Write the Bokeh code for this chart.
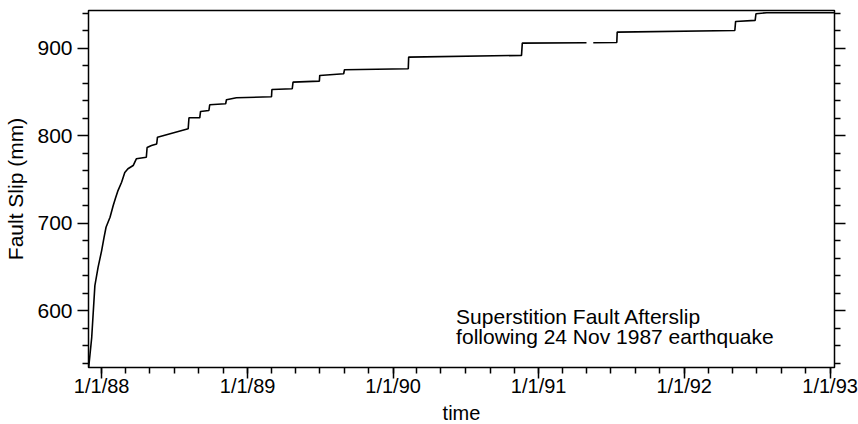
import numpy as np
import pandas as pd
from bokeh.plotting import figure
from bokeh.models import FixedTicker, LinearAxis, Label, Range1d, CustomLabelingPolicy
from bokeh.embed import file_html
from bokeh.resources import INLINE

# ---- data ----
dates = ["1987-11-29", "1987-12-07", "1987-12-15", "1987-12-23", "1988-01-01",
         "1988-01-07", "1988-01-12", "1988-01-22", "1988-01-30", "1988-02-05",
         "1988-02-11", "1988-02-20", "1988-02-28", "1988-03-07", "1988-03-20",
         "1988-03-28", "1988-04-22", "1988-04-24", "1988-05-05", "1988-05-18",
         "1988-05-20", "1988-08-05", "1988-08-07", "1988-09-03", "1988-09-05",
         "1988-09-26", "1988-09-28", "1988-11-07", "1988-11-09", "1988-12-04",
         "1989-03-02", "1989-03-03", "1989-04-23", "1989-04-25", "1989-06-30",
         "1989-07-01", "1989-08-30", "1989-09-01", "1990-02-08", "1990-02-09",
         "1990-11-19", "1990-11-21", "1991-05-01", "1991-05-09", "1991-05-18",
         "1991-07-16", "1991-07-17", "1992-05-07", "1992-05-09", "1992-06-27",
         "1992-06-29", "1992-07-26", "1993-01-13"]
slip = [533, 569, 628.6, 649.5, 668.6,
        683.8, 695.3, 706.7, 720.1, 728.9,
        737.2, 746.7, 757.8, 762.1, 765.8,
        773.5, 775.3, 786.4, 788.7, 790.4,
        798.2, 807.8, 820.4, 820.4, 827.6,
        828.7, 835.3, 836.4, 841.0, 843.3,
        844.4, 852.8, 853.6, 861.1, 862.3,
        868.8, 870.7, 875.3, 876.4, 889.7,
        891.7, 905.7, 906.2, np.nan, 906.2,
        906.5, 918.3, 920.2, 930.5, 931.7,
        939.3, 940.5, 940.5]

x_tick_dates = ["1988-01-01", "1989-01-01", "1990-01-01", "1991-01-01", "1992-01-01", "1993-01-01"]
x_tick_labels = ["1/1/88", "1/1/89", "1/1/90", "1/1/91", "1/1/92", "1/1/93"]
y_ticks = [600, 700, 800, 900]
y_minor = [540, 560, 580, 620, 640, 660, 680, 720, 740, 760, 780, 820, 840, 860, 880, 920, 940]

title_lines = ["Superstition Fault Afterslip", "following 24 Nov 1987 earthquake"]

FONT = "Liberation Sans"


def ms(d):
    return pd.Timestamp(d).value / 1e6


x = pd.to_datetime(dates)
x_ticks_ms = [ms(d) for d in x_tick_dates]
x_minor_ms = [ms(d) for d in pd.date_range("1987-11-01", "1993-03-01", freq="2MS")]

p = figure(frame_width=746, frame_height=357, x_axis_type="datetime",
           output_backend="svg", toolbar_location=None,
           x_range=Range1d(ms("1987-11-29"), ms("1993-01-12")),
           y_range=Range1d(535, 943),
           min_border_left=88, min_border_top=10, min_border_bottom=57,
           min_border_right=24)
p.background_fill_color = "white"
p.border_fill_color = "white"
p.grid.visible = False
p.outline_line_color = "black"
p.outline_line_width = 1.5

p.line(x, slip, line_color="black", line_width=1.6)

# x axis
xa = p.xaxis[0]
xa.ticker = FixedTicker(ticks=x_ticks_ms, minor_ticks=x_minor_ms)
xa.major_label_overrides = {t: l for t, l in zip(x_ticks_ms, x_tick_labels)}
xa.axis_label = "time"

# y axis
ya = p.yaxis[0]
ya.ticker = FixedTicker(ticks=y_ticks, minor_ticks=y_minor)
ya.axis_label = "Fault Slip (mm)"

# right mirror axis: ticks only, no labels
ra = LinearAxis(ticker=FixedTicker(ticks=y_ticks, minor_ticks=y_minor))
ra.major_label_policy = CustomLabelingPolicy(
    code="for (const i of [...indices]) { indices.unset(i) } return indices")
ra.major_label_standoff = 0
p.add_layout(ra, "right")

for ax in [xa, ya, ra]:
    ax.axis_line_color = None
    ax.major_tick_line_color = "black"
    ax.minor_tick_line_color = "black"
    ax.major_tick_line_width = 1.5
    ax.minor_tick_line_width = 1.5
    ax.major_tick_out = 11
    ax.major_tick_in = 0
    ax.minor_tick_out = 6
    ax.minor_tick_in = 0
    ax.axis_label_text_font = FONT
    ax.axis_label_text_font_style = "normal"
    ax.axis_label_text_color = "black"
    ax.major_label_text_font = FONT
    ax.major_label_text_color = "black"

xa.axis_label_text_font_size = "20px"
ya.axis_label_text_font_size = "21px"
xa.major_label_text_font_size = "20px"
ya.major_label_text_font_size = "21px"
xa.major_label_standoff = -4
ya.major_label_standoff = 5
xa.axis_label_standoff = 2
ya.axis_label_standoff = 7

for i, t in enumerate(title_lines):
    p.add_layout(Label(x=ms("1990-06-08"), y=[593.0, 570.2][i], text=t,
                       text_font=FONT, text_font_size="21px",
                       text_color="black", text_baseline="alphabetic"))

open("out.html", "w").write(file_html(p, INLINE))
